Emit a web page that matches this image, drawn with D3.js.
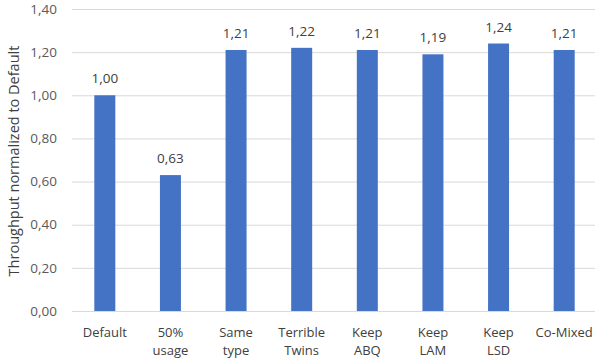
<!DOCTYPE html>
<html><head><meta charset="utf-8">
<script src="https://cdn.jsdelivr.net/npm/d3@7"></script>
<style>body{margin:0;background:#fff;} text{font-family:"Open Sans","Liberation Sans",sans-serif;}</style>
</head><body>
<svg id="c" width="595" height="364"></svg>
<script>
const categories = [["Default"],["50%","usage"],["Same","type"],["Terrible","Twins"],["Keep","ABQ"],["Keep","LAM"],["Keep","LSD"],["Co-Mixed"]];
const values = [1.00, 0.63, 1.21, 1.22, 1.21, 1.19, 1.24, 1.21];
const yTicks = [0,0.2,0.4,0.6,0.8,1.0,1.2,1.4];
const yTitle = "Throughput normalized to Default";

const svg = d3.select("#c");
const pLeft = 72, pRight = 597, pTop = 9, pBottom = 311;
const fmt = v => d3.format(".2f")(v).replace(".", ",");
const ids = categories.map((c,i)=>i);
const x = d3.scaleBand().domain(ids).range([pLeft,pRight]).paddingInner(0.68).paddingOuter(0.34);
const y = d3.scaleLinear().domain([0,1.4]).range([pBottom,pTop]);

svg.append("g").selectAll("line").data(yTicks).join("line")
  .attr("x1",pLeft).attr("x2",595).attr("y1",d=>y(d)+0.5).attr("y2",d=>y(d)+0.5)
  .attr("stroke","#d9d9d9").attr("stroke-width",1);

svg.append("g").selectAll("text").data(yTicks).join("text")
  .attr("x",57).attr("y",d=>y(d)).attr("dy","0.35em").attr("text-anchor","end")
  .attr("font-size",13.5).attr("fill","#595959").text(fmt);

svg.append("g").selectAll("rect").data(values).join("rect")
  .attr("x",(d,i)=>x(i)).attr("width",x.bandwidth())
  .attr("y",d=>y(d)).attr("height",d=>y(0)-y(d)).attr("fill","#4472c4");

svg.append("g").selectAll("text").data(values).join("text")
  .attr("x",(d,i)=>x(i)+x.bandwidth()/2).attr("y",d=>y(d)-12)
  .attr("text-anchor","middle").attr("font-size",13.5).attr("fill","#404040").text(fmt);

const cg = svg.append("g");
categories.forEach((c,i)=>{
  const t = cg.append("text").attr("text-anchor","middle").attr("font-size",13).attr("fill","#404040");
  c.forEach((line,j)=>{
    t.append("tspan").attr("x",x(i)+x.bandwidth()/2).attr("y",337+j*18).text(line);
  });
});

svg.append("text").attr("transform","translate(19,161) rotate(-90)")
  .attr("text-anchor","middle").attr("font-size",14.5).attr("fill","#404040").text(yTitle);
</script>
</body></html>
